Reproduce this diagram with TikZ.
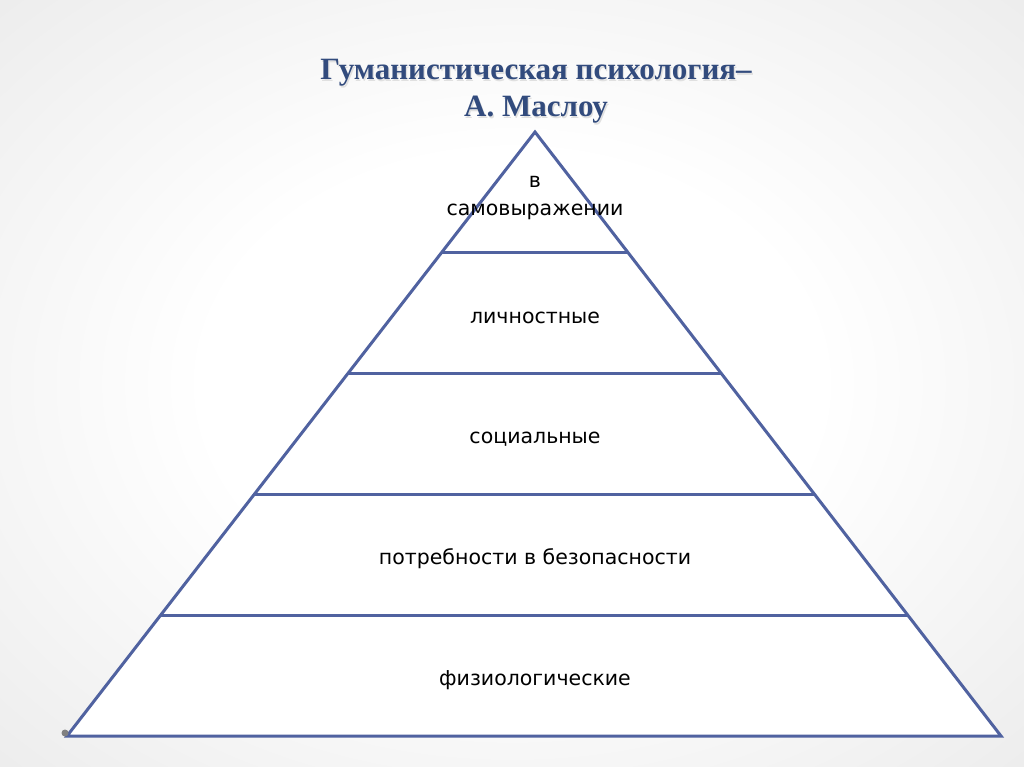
\documentclass[tikz,border=0pt]{standalone}
\usepackage{fontspec}
\usetikzlibrary{calc}
\setmainfont{Liberation Serif}
\newfontfamily\lbl{DejaVu Sans}
\definecolor{pyr}{RGB}{80,98,160}
\definecolor{ttl}{RGB}{50,75,125}
\pgfdeclareradialshading{bgshade}{\pgfpoint{0bp}{0bp}}{color(0bp)=(white); color(15bp)=(white); color(72bp)=(black!20)}
\begin{document}
\begin{tikzpicture}[x=1pt,y=-1pt,
  band/.style={font=\lbl\fontsize{20.5}{28}\selectfont, text=black, align=center},
  ttlstyle/.style={font=\bfseries\fontsize{31}{37}\selectfont, anchor=base}]
\useasboundingbox (0,0) rectangle (1024,767);
\shade[shading=bgshade] (0,0) rectangle (1024,767);
% pyramid
\coordinate (apex) at (535,132);
\coordinate (bl) at (67,736);
\coordinate (br) at (1001,736);
\fill[white] (apex) -- (bl) -- (br) -- cycle;
\foreach \i in {1,2,3,4}{
  \coordinate (l\i) at ($(apex)!{\i/5}!(bl)$);
  \coordinate (r\i) at ($(apex)!{\i/5}!(br)$);
}
\draw[pyr, line width=2.8pt] (l1) -- (r1) (l2) -- (r2) (l3) -- (r3) (l4) -- (r4);
\draw[pyr, line width=3pt, line join=miter] (apex) -- (bl) -- (br) -- cycle;
\fill[gray] (65,733) circle (3.5);
% title
\node[ttlstyle, text=black!12] at (537.2,81.2) {Гуманистическая психология–};
\node[ttlstyle, text=black!12] at (537.2,118.2) {А. Маслоу};
\node[ttlstyle, text=ttl] (title1) at (536,80) {Гуманистическая психология–};
\node[ttlstyle, text=ttl] (title2) at (536,117) {А. Маслоу};
% labels
\node[band] (t5) at (535,198) {в\\самовыражении};
\node[band] (t4) at (535,318) {личностные};
\node[band] (t3) at (535,439) {социальные};
\node[band] (t2) at (535,559) {потребности в безопасности};
\node[band] (t1) at (535,680) {физиологические};
\end{tikzpicture}
\end{document}
